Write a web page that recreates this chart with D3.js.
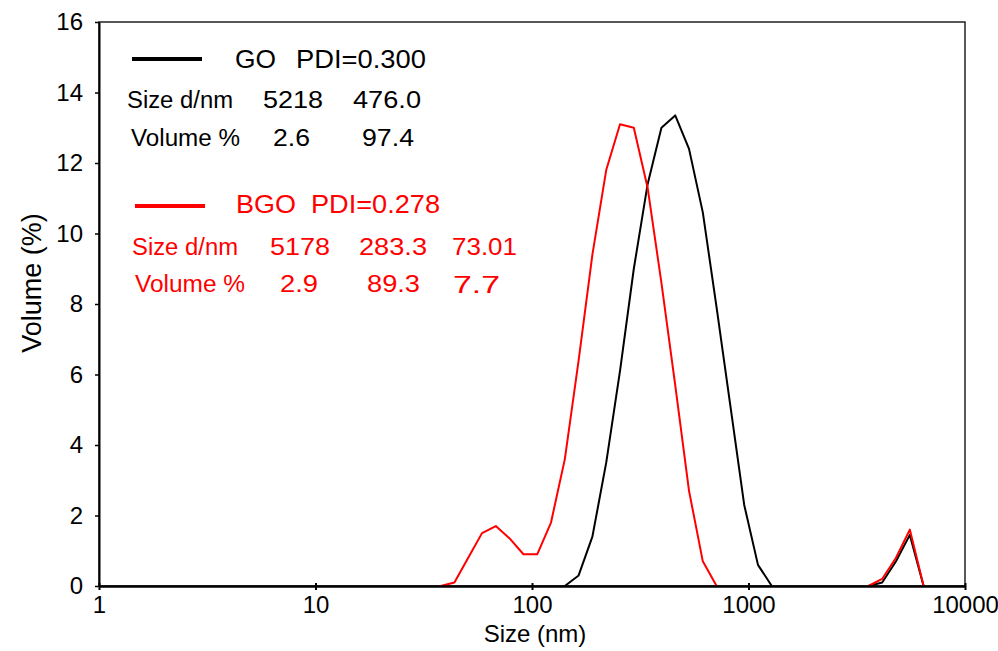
<!DOCTYPE html>
<html>
<head>
  <title>DLS size distribution</title>
  <style>
    body { margin: 0; padding: 0; background: #fff; }
    svg text { font-family: "Liberation Sans", Arial, sans-serif; }
  </style>
</head>
<body>
  <svg id="chart" width="998" height="651"></svg>

  <script src="https://d3js.org/d3.v7.min.js"></script>
  <script>
    // Zetasizer size bins (nm) covering the visible peaks
    const sizes = [37.84, 43.82, 50.75, 58.77, 68.06, 78.82, 91.28, 105.7, 122.4, 141.8,
      164.2, 190.1, 220.2, 255.0, 295.3, 342.0, 396.1, 458.7, 531.2, 615.1,
      712.4, 825.0, 955.4, 1106, 1281, 1484, 1718, 1990, 2305, 2669,
      3091, 3580, 4145, 4801, 5560, 6439, 7456];

    const goVolume = [0, 0, 0, 0, 0, 0, 0, 0, 0, 0,
      0.3, 1.4, 3.5, 6.1, 9.0, 11.4, 13.0, 13.35, 12.4, 10.6,
      7.9, 5.1, 2.3, 0.6, 0, 0, 0, 0, 0, 0,
      0, 0, 0.1, 0.7, 1.45, 0, 0];

    const bgoVolume = [0, 0.1, 0.8, 1.5, 1.7, 1.35, 0.9, 0.9, 1.8, 3.6,
      6.4, 9.4, 11.8, 13.1, 13.0, 11.3, 8.6, 5.7, 2.7, 0.7,
      0, 0, 0, 0, 0, 0, 0, 0, 0, 0,
      0, 0, 0.2, 0.8, 1.6, 0, 0];

    const xTicks = [1, 10, 100, 1000, 10000];
    const yTicks = [0, 2, 4, 6, 8, 10, 12, 14, 16];

    const goPdi = 'PDI=0.300';
    const goSizes = ['5218', '476.0'];
    const goVols = ['2.6', '97.4'];
    const bgoPdi = 'PDI=0.278';
    const bgoSizes = ['5178', '283.3', '73.01'];
    const bgoVols = ['2.9', '89.3', '7.7'];

    const svg = d3.select('#chart');

    const x = d3.scaleLog().domain([1, 10000]).range([99, 965]);
    const y = d3.scaleLinear().domain([0, 16]).range([586, 22]);

    // frame (top / right)
    svg.append('rect')
      .attr('x', x(1)).attr('y', y(16))
      .attr('width', x(10000) - x(1)).attr('height', y(0) - y(16))
      .attr('fill', 'none').attr('stroke', '#222').attr('stroke-width', 1.5);

    // data lines: draw only the non-zero parts (plus their zero ends)
    function drawSeries(vals, color) {
      const pts = sizes.map((s, i) => ({
        s, v: vals[i],
        show: vals[i] > 0 || (vals[i - 1] || 0) > 0 || (vals[i + 1] || 0) > 0
      }));
      const line = d3.line()
        .defined(d => d.show)
        .x(d => x(d.s))
        .y(d => y(d.v));
      svg.append('path')
        .datum(pts)
        .attr('fill', 'none')
        .attr('stroke', color)
        .attr('stroke-width', 2)
        .attr('stroke-linejoin', 'round')
        .attr('d', line);
    }
    drawSeries(goVolume, '#000');
    drawSeries(bgoVolume, '#f00');

    // x axis
    const xAxis = svg.append('g').attr('transform', `translate(0,${y(0)})`)
      .call(d3.axisBottom(x).tickValues(xTicks).tickFormat(d3.format('d'))
        .tickSizeInner(4).tickSizeOuter(0).tickPadding(6));
    xAxis.select('.domain').attr('stroke', '#000').attr('stroke-width', 2.5);
    xAxis.selectAll('.tick line').attr('y1', -3).attr('stroke-width', 2);
    xAxis.selectAll('text').attr('font-size', 24).attr('fill', '#000');

    // y axis
    const yAxis = svg.append('g').attr('transform', `translate(${x(1)},0)`)
      .call(d3.axisLeft(y).tickValues(yTicks)
        .tickSizeInner(4).tickSizeOuter(0).tickPadding(12));
    yAxis.select('.domain').attr('stroke', '#000').attr('stroke-width', 2);
    yAxis.selectAll('.tick line').attr('stroke-width', 1.5);
    yAxis.selectAll('text').attr('font-size', 24).attr('fill', '#000');

    // axis titles
    svg.append('text')
      .attr('x', 535).attr('y', 642)
      .attr('text-anchor', 'middle')
      .attr('font-size', 24)
      .text('Size (nm)');

    svg.append('text')
      .attr('transform', 'translate(41,283) rotate(-90)')
      .attr('text-anchor', 'middle')
      .attr('font-size', 27)
      .text('Volume (%)');

    // legend / annotation block
    function label(txt, x0, x1, base, size, color) {
      svg.append('text')
        .attr('x', x0).attr('y', base)
        .attr('font-size', size)
        .attr('fill', color)
        .attr('textLength', x1 - x0)
        .attr('lengthAdjust', 'spacingAndGlyphs')
        .text(txt);
    }

    svg.append('line').attr('x1', 132).attr('x2', 202).attr('y1', 59).attr('y2', 59)
      .attr('stroke', '#000').attr('stroke-width', 4);
    label('GO', 235, 276, 68, 25, '#000');
    label(goPdi, 296, 426, 68, 25, '#000');
    label('Size d/nm', 127, 233, 108, 23, '#000');
    label(goSizes[0], 263, 323, 108, 23, '#000');
    label(goSizes[1], 353, 421, 108, 23, '#000');
    label('Volume %', 131, 240, 146, 23, '#000');
    label(goVols[0], 273, 310, 146, 23, '#000');
    label(goVols[1], 362, 414, 146, 23, '#000');

    svg.append('line').attr('x1', 135).attr('x2', 205).attr('y1', 206).attr('y2', 206)
      .attr('stroke', '#f00').attr('stroke-width', 4);
    label('BGO', 236, 296, 213, 25, '#f00');
    label(bgoPdi, 311, 440, 213, 25, '#f00');
    label('Size d/nm', 132, 238, 255, 23, '#f00');
    label(bgoSizes[0], 270, 330, 255, 23, '#f00');
    label(bgoSizes[1], 359, 427, 255, 23, '#f00');
    label(bgoSizes[2], 452, 517, 255, 23, '#f00');
    label('Volume %', 135, 245, 292, 23, '#f00');
    label(bgoVols[0], 280, 318, 292, 23, '#f00');
    label(bgoVols[1], 367, 420, 292, 23, '#f00');
    label(bgoVols[2], 453, 500, 293, 23, '#f00');
  </script>
</body>
</html>
